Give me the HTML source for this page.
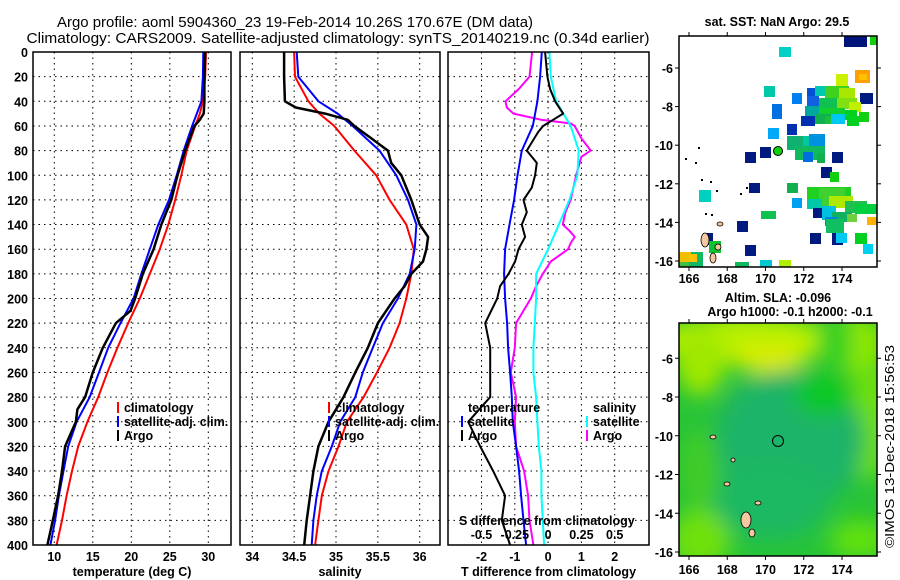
<!DOCTYPE html>
<html><head><meta charset="utf-8">
<style>
html,body{margin:0;padding:0;background:#fff;}
svg{display:block;font-family:"Liberation Sans",Arial,sans-serif;}
.tk{font-size:12.5px;font-weight:bold;fill:#000;}
.lg{font-size:12.5px;font-weight:bold;fill:#000;}
</style></head>
<body>
<svg id="chart" width="900" height="580" viewBox="0 0 900 580">
<text x="295" y="27" text-anchor="middle" font-size="15" textLength="476" lengthAdjust="spacingAndGlyphs">Argo profile: aoml 5904360_23 19-Feb-2014 10.26S 170.67E (DM data)</text>
<text x="338" y="43" text-anchor="middle" font-size="15" textLength="623" lengthAdjust="spacingAndGlyphs">Climatology: CARS2009. Satellite-adjusted climatology: synTS_20140219.nc (0.34d earlier)</text>
<g id="panels"></g>
<g id="maps"></g>
<text transform="translate(894,548) rotate(-90)" font-size="12.5" textLength="203" lengthAdjust="spacingAndGlyphs">©IMOS 13-Dec-2018 15:56:53</text>
</svg>
<script>
// ---------- profile data ----------
const depths = [0,20,40,50,60,80,100,120,140,160,180,200,220,240,260,280,300,320,340,360,380,400];
const tempClim = [29.7,29.6,29.3,28.9,28.3,27.2,26.5,25.7,24.8,23.7,22.4,21.1,19.6,18.2,16.9,15.7,14.3,13.1,12.3,11.6,11.0,10.3];
const tempSat  = [29.35,29.3,29.1,28.5,27.9,26.8,25.9,24.9,23.5,22.4,21.3,20.3,18.6,17.0,15.8,14.6,12.9,11.8,11.2,10.6,10.1,9.5];
const argoDepths = [0,20,40,50,55,60,80,100,120,140,160,180,200,210,220,240,260,280,290,300,320,340,360,380,400];
const tempArgo = [29.6,29.5,29.5,29.4,28.9,28.2,27.0,26.0,25.2,23.9,22.9,21.5,20.5,19.9,18.0,16.3,15.0,14.0,13.0,12.8,11.4,11.0,10.5,9.8,9.1];
const salClim = [34.50,34.51,34.67,34.80,34.98,35.22,35.48,35.64,35.84,35.93,35.90,35.84,35.76,35.64,35.49,35.33,35.13,35.03,34.91,34.83,34.79,34.75];
const salSat  = [34.53,34.55,34.79,35.02,35.20,35.52,35.72,35.86,35.96,35.94,35.88,35.74,35.56,35.44,35.32,35.23,35.05,34.95,34.83,34.77,34.73,34.71];
const salArgoDepths = [0,20,40,45,50,55,60,70,80,90,100,120,140,150,160,170,180,190,200,210,220,240,260,280,300,320,340,360,380,400];
const salArgo = [34.38,34.38,34.39,34.52,34.87,35.14,35.22,35.42,35.62,35.66,35.78,35.90,36.00,36.10,36.08,36.04,35.90,35.82,35.70,35.60,35.50,35.38,35.23,35.09,34.91,34.79,34.73,34.69,34.65,34.62];
// difference panel
const diffDepths = [0,20,30,40,50,55,60,65,80,90,100,110,120,130,140,150,160,170,180,190,200,220,240,260,280,300,320,340,360,380,400];
const tDiffArgo = [-0.09,-0.02,0.06,0.21,0.45,0.15,-0.15,-0.3,-0.64,-0.34,-0.39,-0.49,-0.74,-0.64,-0.79,-0.69,-0.89,-0.99,-1.19,-1.44,-1.53,-1.89,-1.74,-1.74,-1.74,-2.4,-2.04,-1.65,-1.29,-1.39,-1.14];
const mDepths = [0,20,30,40,45,50,55,58,60,70,80,85,100,120,130,140,145,150,155,160,170,180,190,200,220,240,260,280,300,320,340,360,380,400];
const sDiffArgo = [-0.12,-0.14,-0.22,-0.32,-0.31,-0.26,-0.05,0.17,0.2,0.25,0.32,0.25,0.21,0.17,0.13,0.11,0.16,0.2,0.17,0.15,0.02,-0.04,-0.09,-0.13,-0.24,-0.25,-0.28,-0.24,-0.25,-0.24,-0.18,-0.15,-0.14,-0.11];
const satDepths = [0,20,40,60,80,100,120,140,160,180,200,220,240,260,280,300,320,340,360,380,400];
const tDiffSat = [-0.19,-0.24,-0.32,-0.46,-0.79,-0.92,-1.02,-1.16,-1.29,-1.32,-1.29,-1.23,-1.2,-1.14,-1.09,-1.06,-0.96,-0.87,-0.81,-0.74,-0.66];
const sDiffSat = [0.01,0.02,0.06,0.17,0.23,0.22,0.16,0.08,0.0,-0.09,-0.09,-0.1,-0.11,-0.11,-0.09,-0.08,-0.07,-0.05,-0.05,-0.04,-0.03];
const depthTicks = [0,20,40,60,80,100,120,140,160,180,200,220,240,260,280,300,320,340,360,380,400];
const tempTicks = [10,15,20,25,30];
const salTicks = [34,34.5,35,35.5,36];
const salTickLabels = ["34","34.5","35","35.5","36"];
const tDiffTicks = [-2,-1,0,1,2];
const sDiffTicks = [-0.5,-0.25,0,0.25,0.5];
const sDiffTickLabels = ["-0.5","-0.25","0","0.25","0.5"];

const NS = "http://www.w3.org/2000/svg";
function mk(parent, tag, attrs, txt){
  const e = document.createElementNS(NS, tag);
  for (const k in attrs) e.setAttribute(k, attrs[k]);
  if (txt !== undefined) e.textContent = txt;
  parent.appendChild(e);
  return e;
}
const TOP = 52, BOT = 545;
const yD = d => TOP + d * (BOT - TOP) / 400;
function lin(d0, d1, r0, r1){ return v => r0 + (v - d0) * (r1 - r0) / (d1 - d0); }

const panelsG = document.getElementById('panels');
function panel(name, x0, x1, xScale, ticks, labels, xlabel, showDepth){
  const g = mk(panelsG, 'g', {});
  
  
  depthTicks.forEach(d => {
    if (d === 0 || d === 400) return;
    const l = mk(g, 'line', {x1:x0, x2:x1, y1:yD(d), y2:yD(d), stroke:'#000', 'stroke-width':1, 'stroke-dasharray':'1.5,4'});
    
    
  });
  ticks.forEach((t, i) => {
    const x = xScale(t);
    const l = mk(g, 'line', {x1:x, x2:x, y1:TOP, y2:BOT, stroke:'#000', 'stroke-width':1, 'stroke-dasharray':'1.5,4'});
    
    
    const tx = mk(g, 'text', {x:x, y:BOT + 16, 'text-anchor':'middle', class:'tk'}, labels[i]);
    
    
  });
  if (showDepth) {
    depthTicks.forEach(d => {
      const tx = mk(g, 'text', {x:28, y:yD(d) + 5, 'text-anchor':'end', class:'tk'}, String(d));
      
      
    });
  }
  const xl = mk(g, 'text', {x:(x0 + x1) / 2, y:576, 'text-anchor':'middle', class:'tk'}, xlabel);
  
  
  return g;
}
function line(g, name, xs, ds, xScale, color, w){
  const pts = xs.map((v, i) => xScale(v).toFixed(1) + ',' + yD(ds[i]).toFixed(1)).join(' ');
  const p = mk(g, 'polyline', {points:pts, fill:'none', stroke:color, 'stroke-width':w, 'stroke-linejoin':'round'});
  
  
}
function frame(g, x0, x1){
  const r = mk(g, 'rect', {x:x0, y:TOP, width:x1 - x0, height:BOT - TOP, fill:'none', stroke:'#000', 'stroke-width':1.5});
  
  
}
function legend(g, x, y, color, label){
  if (color) {
    const m = mk(g, 'rect', {x:x, y:y - 10, width:2, height:11, fill:color});
    
    
  }
  const t = mk(g, 'text', {x:x + 7, y:y, class:'lg'}, label);
  
  
}

// Panel 1 temperature
const xT = lin(10, 30, 54.3, 208.3);
const g1 = panel('temperature-panel', 33, 231, xT, tempTicks, tempTicks.map(String), 'temperature (deg C)', true);
line(g1, 'temp-climatology-line', tempClim, depths, xT, '#f00', 2);
line(g1, 'temp-satellite-line', tempSat, depths, xT, '#00f', 2);
line(g1, 'temp-argo-line', tempArgo, argoDepths, xT, '#000', 2.5);
frame(g1, 33, 231);
legend(g1, 117, 412, '#f00', 'climatology');
legend(g1, 117, 426, '#00f', 'satellite-adj. clim.');
legend(g1, 117, 440, '#000', 'Argo');

// Panel 2 salinity
const xS = lin(34, 36, 252.3, 419.7);
const g2 = panel('salinity-panel', 240, 440, xS, salTicks, salTickLabels, 'salinity', false);
line(g2, 'sal-climatology-line', salClim, depths, xS, '#f00', 2);
line(g2, 'sal-satellite-line', salSat, depths, xS, '#00f', 2);
line(g2, 'sal-argo-line', salArgo, salArgoDepths, xS, '#000', 2.5);
frame(g2, 240, 440);
legend(g2, 328, 412, '#f00', 'climatology');
legend(g2, 328, 426, '#00f', 'satellite-adj. clim.');
legend(g2, 328, 440, '#000', 'Argo');

// Panel 3 differences
const xTd = lin(-2, 2, 481.5, 614.7);
const xSd = lin(-0.5, 0.5, 481.5, 614.7);
const g3 = panel('difference-panel', 448, 649, xTd, tDiffTicks, tDiffTicks.map(String), 'T difference from climatology', false);
line(g3, 'sdiff-argo-line', sDiffArgo, mDepths, xSd, '#f0f', 2);
line(g3, 'sdiff-satellite-line', sDiffSat, satDepths, xSd, '#0ff', 2);
line(g3, 'tdiff-satellite-line', tDiffSat, satDepths, xTd, '#00f', 2);
line(g3, 'tdiff-argo-line', tDiffArgo, diffDepths, xTd, '#000', 2);
frame(g3, 448, 649);
legend(g3, 461, 412, null, 'temperature');
legend(g3, 461, 426, '#00f', 'satellite');
legend(g3, 461, 440, '#000', 'Argo');
legend(g3, 586, 412, null, 'salinity');
legend(g3, 586, 426, '#0ff', 'satellite');
legend(g3, 586, 440, '#f0f', 'Argo');
sDiffTicks.forEach((t, i) => {
  const tx = mk(g3, 'text', {x:xSd(t), y:539, 'text-anchor':'middle', class:'tk'}, sDiffTickLabels[i]);
  
  
});
const sdt = mk(g3, 'text', {x:459, y:525, class:'tk'}, 'S difference from climatology');



// ---------- maps ----------
const mapsG = document.getElementById('maps');
const lonTicks = [166,168,170,172,174];
const latTicks1 = [-6,-8,-10,-12,-14,-16];
const latTicks2 = [-6,-8,-10,-12,-14,-16];
function mapAxes(g, x0, y0, x1, y1, lonS, latS, labY, latTicks){
  lonTicks.forEach(l => {
    const x = lonS(l);
    mk(g, 'line', {x1:x, x2:x, y1:y1, y2:y1 + 4, stroke:'#000'});
    mk(g, 'line', {x1:x, x2:x, y1:y0, y2:y0 - 4, stroke:'#000'});
    const t = mk(g, 'text', {x:x, y:labY, 'text-anchor':'middle', class:'tk'}, String(l));
    
    
  });
  latTicks.forEach(l => {
    const y = latS(l);
    mk(g, 'line', {x1:x0, x2:x0 - 4, y1:y, y2:y, stroke:'#000'});
    mk(g, 'line', {x1:x1, x2:x1 + 4, y1:y, y2:y, stroke:'#000'});
    const t = mk(g, 'text', {x:x0 - 6, y:y + 5, 'text-anchor':'end', class:'tk'}, String(l));
    
    
  });
  const r = mk(g, 'rect', {x:x0, y:y0, width:x1 - x0, height:y1 - y0, fill:'none', stroke:'#000', 'stroke-width':1.5});
  
  
}

// Map 1 SST tiles (pixel offsets within map image: x, y, w, h, color)
const sstTiles = [
 [165,0,23,11,'#00147a'],[191,0,7,9,'#10d010'],[100,11,12,10,'#00d0c8'],
 [176,34,15,13,'#ffa000'],[180,38,8,6,'#ffc000'],[157,38,12,19,'#ccf000'],
 [85,50,11,11,'#00c8a8'],[113,57,10,11,'#0080f0'],[128,52,8,8,'#0050d0'],
 [136,50,10,10,'#00c8b0'],[146,50,24,12,'#40d020'],[160,52,16,10,'#a8e800'],
 [181,57,13,11,'#001a80'],[128,60,12,10,'#1060e0'],[140,62,18,11,'#10c050'],
 [158,62,20,11,'#80e010'],[170,66,12,10,'#c0f000'],[126,70,14,10,'#00a8a0'],
 [140,72,26,10,'#10d030'],[166,74,12,10,'#00d020'],[180,76,10,10,'#10d010'],
 [122,80,14,10,'#0030b0'],[136,78,16,10,'#10b050'],[146,80,20,8,'#18c040'],
 [152,78,14,10,'#00c8f0'],[168,80,12,10,'#00d020'],
 [93,68,10,15,'#0070e0'],[108,88,10,11,'#0030b0'],[89,92,11,11,'#00a8f8'],
 [108,100,20,14,'#10b070'],[124,100,18,12,'#00c8a0'],[130,98,16,14,'#0090e0'],
 [116,110,30,14,'#10b860'],[124,116,10,10,'#0070e0'],[138,118,8,9,'#10b050'],
 [66,116,11,11,'#001a80'],[81,111,11,11,'#001a80'],[153,116,11,11,'#001a80'],
 [142,131,11,11,'#001a80'],[151,136,9,10,'#10d010'],[70,147,11,10,'#001a80'],
 [108,147,11,10,'#10b050'],[20,154,12,12,'#00d0c0'],[113,162,10,10,'#00a0f0'],
 [128,151,44,12,'#20d020'],[140,152,26,20,'#40d030'],[128,163,15,10,'#00c8a8'],
 [150,160,24,12,'#b0e800'],[166,165,22,12,'#20c050'],[176,168,22,10,'#00d040'],
 [134,172,12,10,'#001a80'],[143,170,14,14,'#00c0e0'],[153,176,20,10,'#10b060'],
 [168,178,10,8,'#70d040'],[188,181,10,8,'#ffb000'],[146,181,12,9,'#0080e0'],
 [82,175,15,8,'#10c050'],[58,185,11,11,'#001a80'],[131,197,11,11,'#001a80'],
 [153,197,11,12,'#001a80'],[176,197,12,11,'#00d020'],[184,208,10,10,'#00d0f0'],
 [157,197,11,10,'#00c8f0'],[147,183,18,14,'#10c060'],
 [0,216,24,31,'#10b868'],[0,216,12,10,'#f0c000'],[10,218,8,8,'#ffc000'],
 [0,226,10,8,'#40c040'],[0,240,44,27,'#10c058'],[10,236,12,8,'#00a0e0'],
 [24,197,10,12,'#001a80'],[30,205,12,12,'#10c030'],[24,240,20,20,'#10c050'],
 [56,226,14,14,'#10b860'],[40,248,20,19,'#10b060'],[66,209,11,11,'#001a80'],
 [58,244,18,18,'#00a8c0'],[60,250,12,10,'#0070e0'],[81,224,12,12,'#00c8d0'],
 [100,224,12,8,'#b0f000']
];
const g4 = mk(mapsG, 'g', {});


const M1 = {x0:679, y0:36, x1:877, y1:267};
const clip1 = mk(mapsG, 'clipPath', {id:'c1'});
mk(clip1, 'rect', {x:M1.x0, y:M1.y0, width:M1.x1 - M1.x0, height:M1.y1 - M1.y0});
const tiles = mk(g4, 'g', {'clip-path':'url(#c1)'});
sstTiles.forEach(t => {
  const r = mk(tiles, 'rect', {x:M1.x0 + t[0], y:M1.y0 + t[1], width:t[2], height:t[3], fill:t[4]});
  
  
});
[[705,240,4,7],[718,247,3,3],[720,224,3,2],[713,258,3,5]].forEach(s=>{
  mk(tiles,'ellipse',{cx:s[0],cy:s[1],rx:s[2],ry:s[3],fill:'#f5c8a0',stroke:'#000','stroke-width':0.8});
});
[[685,158],[695,162],[698,147],[701,179],[710,181],[716,190],[740,193],[746,187],[705,213],[711,214]].forEach(p=>{
  mk(tiles,'rect',{x:p[0],y:p[1],width:2,height:2,fill:'#000'});
});
const argoDot = mk(g4, 'circle', {cx:778, cy:151, r:4.5, fill:'#10d010', stroke:'#000', 'stroke-width':1});


const lon1 = lin(166, 174, 689, 842), lat1 = lin(-6, -16, 68, 261);
mapAxes(g4, M1.x0, M1.y0, M1.x1, M1.y1, lon1, lat1, 283, latTicks1);
const mt1 = mk(g4, 'text', {x:777, y:26, 'text-anchor':'middle', class:'tk'}, 'sat. SST: NaN Argo: 29.5');



// Map 2 SLA
const M2 = {x0:679, y0:323, x1:877, y1:556};
const g5 = mk(mapsG, 'g', {});


const defs = mk(g5, 'defs', {});
const f = mk(defs, 'filter', {id:'bl', x:'-50%', y:'-50%', width:'200%', height:'200%'});
mk(f, 'feGaussianBlur', {stdDeviation:10});
const clip2 = mk(defs, 'clipPath', {id:'c2'});
mk(clip2, 'rect', {x:M2.x0, y:M2.y0, width:M2.x1 - M2.x0, height:M2.y1 - M2.y0});
const field = mk(g5, 'g', {'clip-path':'url(#c2)'});
mk(field, 'rect', {x:M2.x0, y:M2.y0, width:198, height:233, fill:'#28c438'});
const blobs = mk(field, 'g', {filter:'url(#bl)'});
[[745,340,90,25,'#b8f000'],[770,358,35,16,'#d8ec00'],[700,360,25,35,'#a0e800'],
 [860,345,25,30,'#90e800'],[835,345,18,25,'#30d020'],[870,420,20,60,'#6ee010'],
 [790,440,75,70,'#1cb468'],[770,500,60,40,'#1eb862'],[700,540,30,30,'#70e010'],
 [860,540,30,20,'#60e010'],[825,395,30,20,'#10c820'],[700,470,20,40,'#40cc28']
].forEach(b=>{ mk(blobs,'ellipse',{cx:b[0],cy:b[1],rx:b[2],ry:b[3],fill:b[4]}); });
[[746,520,5,8],[752,533,3,4],[727,484,3,2],[713,437,3,2],[733,460,2,2],[758,503,3,2]].forEach(s=>{
  mk(field,'ellipse',{cx:s[0],cy:s[1],rx:s[2],ry:s[3],fill:'#f5c8a0',stroke:'#000','stroke-width':0.8});
});
const ring = mk(g5, 'circle', {cx:778, cy:441, r:5.5, fill:'none', stroke:'#000', 'stroke-width':1});


const lon2 = lin(166, 174, 689, 842), lat2 = lin(-8, -16, 397, 552);
mapAxes(g5, M2.x0, M2.y0, M2.x1, M2.y1, lon2, lat2, 574, latTicks2);
const mt2 = mk(g5, 'text', {x:778, y:302, 'text-anchor':'middle', class:'tk'}, 'Altim. SLA: -0.096');


const mt3 = mk(g5, 'text', {x:790, y:316, 'text-anchor':'middle', class:'tk'}, 'Argo h1000: -0.1 h2000: -0.1');


</script>
</body></html>
